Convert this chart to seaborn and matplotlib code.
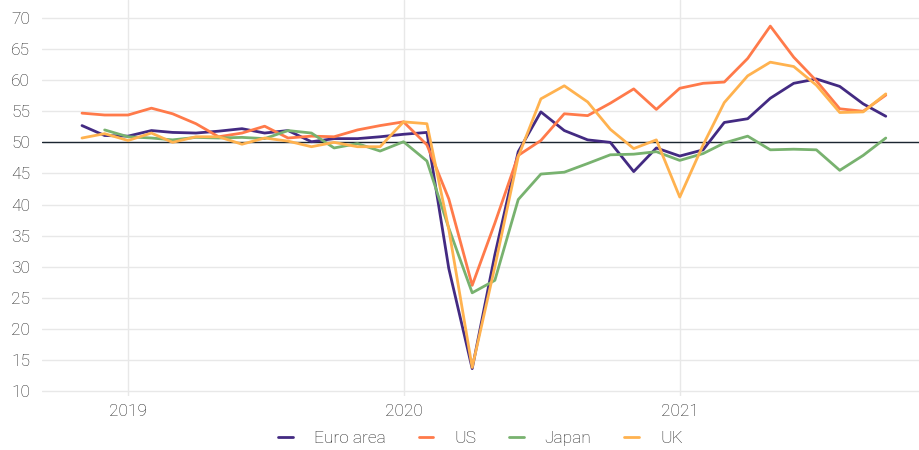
import numpy as np
import pandas as pd
import matplotlib
matplotlib.use("Agg")
import matplotlib.pyplot as plt
import matplotlib.dates as mdates
import seaborn as sns

# Composite PMI, monthly, Nov 2018 - Oct 2021
months = pd.date_range("2018-11-01", "2021-10-01", freq="MS")

euro_area = [52.7, 51.1, 51.0, 51.9, 51.6, 51.5, 51.8, 52.2, 51.5, 51.9, 50.1, 50.6,
             50.6, 50.9, 51.3, 51.6, 29.7, 13.6, 31.9, 48.5, 54.9, 51.9, 50.4, 50.0,
             45.3, 49.1, 47.8, 48.8, 53.2, 53.8, 57.1, 59.5, 60.2, 59.0, 56.2, 54.2]
us = [54.7, 54.4, 54.4, 55.5, 54.6, 53.0, 50.9, 51.5, 52.6, 50.7, 51.0, 50.9,
      52.0, 52.7, 53.3, 49.6, 40.9, 27.0, 37.0, 47.9, 50.3, 54.6, 54.3, 56.3,
      58.6, 55.3, 58.7, 59.5, 59.7, 63.5, 68.7, 63.7, 59.9, 55.4, 55.0, 57.6]
japan = [np.nan, 52.0, 50.9, 50.7, 50.4, 50.8, 50.7, 50.8, 50.6, 51.9, 51.5, 49.1,
         49.8, 48.6, 50.1, 47.0, 36.2, 25.8, 27.8, 40.8, 44.9, 45.2, 46.6, 48.0,
         48.1, 48.5, 47.1, 48.2, 49.9, 51.0, 48.8, 48.9, 48.8, 45.5, 47.9, 50.7]
uk = [50.7, 51.4, 50.3, 51.5, 50.0, 50.9, 50.9, 49.7, 50.7, 50.2, 49.3, 50.0,
      49.3, 49.3, 53.3, 53.0, 36.0, 13.8, 30.0, 47.7, 57.0, 59.1, 56.5, 52.1,
      49.0, 50.4, 41.2, 49.6, 56.4, 60.7, 62.9, 62.2, 59.2, 54.8, 54.9, 57.8]

series_names = ["Euro area", "US", "Japan", "UK"]
colors = ["#432a82", "#ff7a4a", "#78b26f", "#ffb24f"]

df = pd.DataFrame({"date": months, "Euro area": euro_area, "US": us,
                   "Japan": japan, "UK": uk})
long_df = df.melt(id_vars="date", var_name="region", value_name="pmi").dropna()

sns.set_theme(style="white")
plt.rcParams["font.family"] = ["Roboto", "DejaVu Sans"]

fig = plt.figure(figsize=(9.19, 4.5), dpi=100)
ax = fig.add_axes([42 / 919, 1 - 396 / 450, 1 - 42 / 919, 396 / 450])

ax.grid(True, color="#e8e8e8", linewidth=1.0)
ax.set_axisbelow(True)
ax.axhline(50, color="#1b2631", linewidth=1.0, zorder=1)

sns.lineplot(data=long_df, x="date", y="pmi", hue="region", hue_order=series_names,
             palette=colors, linewidth=2.0, ax=ax, zorder=3)

ax.set_ylim(9.2, 72.9)
ax.set_yticks(np.arange(10, 71, 5))
ax.set_xlim(pd.Timestamp("2018-09-09"), pd.Timestamp("2021-11-14"))
ax.xaxis.set_major_locator(mdates.YearLocator())
ax.xaxis.set_major_formatter(mdates.DateFormatter("%Y"))

ax.set_xlabel("")
ax.set_ylabel("")
for s in ax.spines.values():
    s.set_visible(False)
ax.tick_params(axis="both", length=0, labelsize=12.5, labelcolor="#222222")
ax.tick_params(axis="y", pad=8.5)
ax.tick_params(axis="x", pad=5.5)
for lbl in ax.get_xticklabels() + ax.get_yticklabels():
    lbl.set_fontweight("light")

handles, labels = ax.get_legend_handles_labels()
ax.legend(handles, labels, loc="center", bbox_to_anchor=(0.5, -0.107), ncol=4,
          frameon=False, handlelength=0.85, handletextpad=1.2, columnspacing=1.9,
          prop={"size": 12.5, "weight": "light"}, labelcolor="#222222")

fig.savefig("out.png", dpi=100)
